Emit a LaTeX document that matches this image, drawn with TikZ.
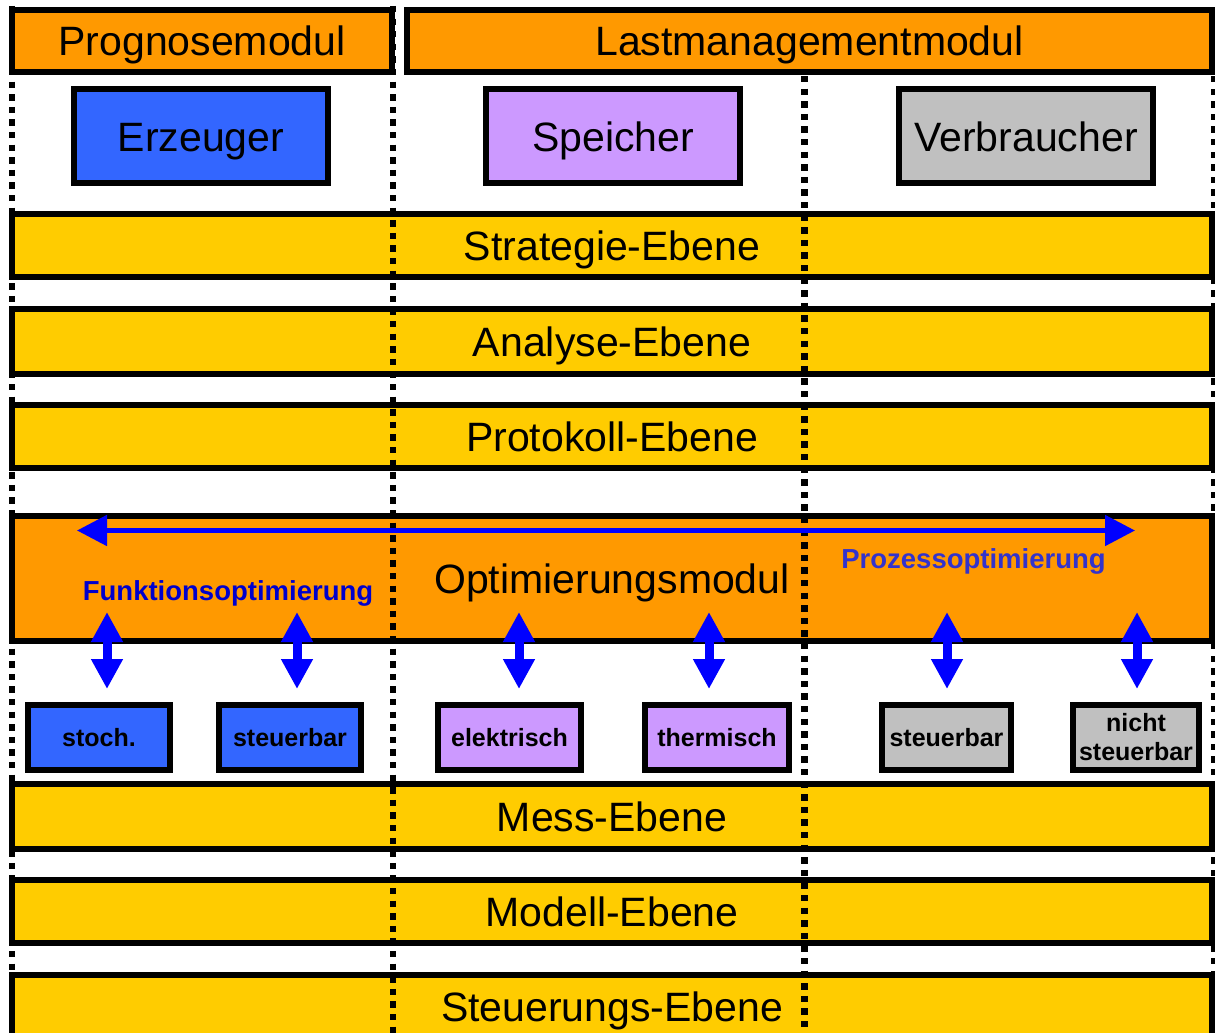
\documentclass[tikz,border=0pt]{standalone}
\usepackage{fontspec}
\setmainfont{Liberation Sans}
\usetikzlibrary{arrows.meta}
\definecolor{ModulClr}{HTML}{FF9900}
\definecolor{EbeneClr}{HTML}{FFCC00}
\definecolor{ErzClr}{HTML}{3366FF}
\definecolor{SpeiClr}{HTML}{CC99FF}
\definecolor{VerbClr}{HTML}{C0C0C0}
\definecolor{FunkClr}{HTML}{0000CC}
\definecolor{ProzClr}{HTML}{3333CC}
\definecolor{PfeilClr}{HTML}{0000FF}

\begin{document}
\begin{tikzpicture}[x=1pt,y=-1pt,
  box/.style={draw=black,line width=6pt,inner sep=0pt},
  bigbox/.style={box,font=\fontsize{41}{49}\selectfont,text height=30pt,text depth=0pt},
  modul/.style={bigbox,fill=ModulClr,minimum height=62pt},
  geraet/.style={bigbox,minimum width=254pt,minimum height=94pt},
  ebene/.style={bigbox,fill=EbeneClr,minimum width=1200pt,minimum height=63pt},
  klein/.style={box,font=\fontsize{25}{29}\selectfont\bfseries,minimum height=65pt,align=center},
  optlabel/.style={font=\fontsize{27.5}{33}\selectfont\bfseries,anchor=base},
  trenner/.style={line width=6.5pt,dash pattern=on 6.3pt off 6.3pt},
  pfeil/.style={draw=PfeilClr,line width=9pt,{Triangle[length=30pt,width=30pt]}-{Triangle[length=30pt,width=30pt]}}]
\useasboundingbox (0,0) rectangle (1215,1033);

\node[modul,minimum width=380pt] (prog) at (202,41) {Prognosemodul};
\node[modul,minimum width=805pt] (last) at (809.5,41) {Lastmanagementmodul};

\node[geraet,fill=ErzClr] (erz) at (201,136) {Erzeuger};
\node[geraet,fill=SpeiClr] (spei) at (613,136) {Speicher};
\node[geraet,fill=VerbClr] (verb) at (1026,136) {Verbraucher};

\node[ebene] (strat) at (612,245.5) {Strategie-Ebene};
\node[ebene,minimum height=65pt] (analyse) at (612,341.5) {Analyse-Ebene};
\node[ebene] (proto) at (612,436.5) {Protokoll-Ebene};
\node[ebene,fill=ModulClr,minimum height=125pt] (opti) at (612,578.5) {Optimierungsmodul};
\node[ebene,minimum height=65pt] (mess) at (612,816.5) {Mess-Ebene};
\node[ebene] (modell) at (612,911.5) {Modell-Ebene};
\node[ebene] (steuer) at (612,1006) {Steuerungs-Ebene};

\node[klein,fill=ErzClr,minimum width=142pt] (stoch) at (99,737.5) {stoch.};
\node[klein,fill=ErzClr,minimum width=142pt] (erzst) at (290,737.5) {steuerbar};
\node[klein,fill=SpeiClr,minimum width=143pt] (elek) at (509.5,737.5) {elektrisch};
\node[klein,fill=SpeiClr,minimum width=144pt] (therm) at (717,737.5) {thermisch};
\node[klein,fill=VerbClr,minimum width=129pt] (verbst) at (946.5,737.5) {steuerbar};
\node[klein,fill=VerbClr,minimum width=126pt] (verbnst) at (1136,737.5) {nicht\\steuerbar};

\draw[trenner] (12,6) -- (12,1033);
\draw[trenner] (393,6) -- (393,1033);
\draw[trenner] (804.5,76) -- (804.5,1033);
\draw[trenner] (1214,76) -- (1214,1033);

\node[optlabel,text=FunkClr] (funk) at (228,600) {Funktionsoptimierung};
\node[optlabel,text=ProzClr] (proz) at (973.5,568) {Prozessoptimierung};

\coordinate (links) at (77,530.5);
\coordinate (rechts) at (1135,530.5);
\draw[pfeil,line width=5pt] (links) -- (rechts);
\foreach \n/\x in {stoch/107,erzst/297,elek/519,therm/709,verbst/947,verbnst/1137}{
  \coordinate (\n-oben) at (\x,612);
  \coordinate (\n-unten) at (\x,689);
  \draw[pfeil] (\n-oben) -- (\n-unten);
}

\end{tikzpicture}
\end{document}
